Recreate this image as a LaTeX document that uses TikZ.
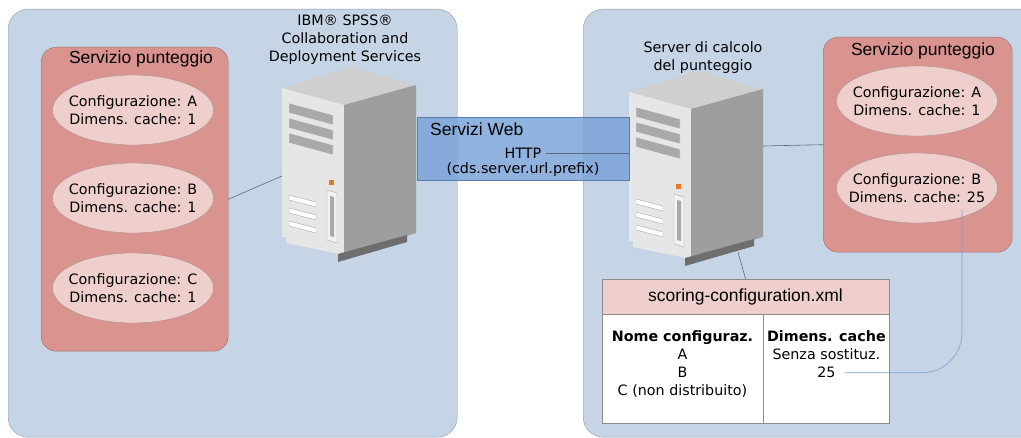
\documentclass[tikz,border=0pt]{standalone}
\usepackage{fontspec}
\setmainfont{DejaVu Sans}
\newfontfamily\arialfont{Liberation Sans}
\usetikzlibrary{shapes.geometric, positioning}

\definecolor{zonefill}{HTML}{C6D5E6}
\definecolor{zoneline}{HTML}{8B98A8}
\definecolor{svcfill}{HTML}{D99490}
\definecolor{svcline}{HTML}{9C6B68}
\definecolor{cfgfill}{HTML}{EFCFCC}
\definecolor{cfgline}{HTML}{B09090}
\definecolor{webfill}{HTML}{7BA4D9}
\definecolor{webline}{HTML}{5B7DAE}
\definecolor{xmlfill}{HTML}{EFCFCD}
\definecolor{cellline}{HTML}{8C8C8C}
\definecolor{linkcol}{HTML}{5C6B7D}
\definecolor{feedcol}{HTML}{7DA2D4}
\definecolor{srvtop}{HTML}{CFCFCF}
\definecolor{srvfront}{HTML}{E6E6E6}
\definecolor{srvside}{HTML}{9E9E9E}
\definecolor{srvbase}{HTML}{6E6E6E}
\definecolor{srvvent}{HTML}{A9A9A9}
\definecolor{srvedge}{HTML}{F2F2F2}
\definecolor{srvbay}{HTML}{F2F2F2}
\definecolor{ledorange}{HTML}{E87722}

\begin{document}
\begin{tikzpicture}[x=1pt, y=-1pt,
    zone/.style={rectangle, draw=zoneline, fill=zonefill, rounded corners=20pt, anchor=north west},
    svcbox/.style={rectangle, draw=svcline, fill=svcfill, rounded corners=15pt, anchor=north west},
    cfg/.style={ellipse, draw=cfgline, fill=cfgfill, minimum width=161pt, minimum height=70pt, align=center, inner xsep=-25pt, inner ysep=0pt, font=\fontsize{14.3}{18}\selectfont},
    txt/.style={align=center, inner sep=0pt, font=\fontsize{14.3}{18}\selectfont},
    heading/.style={inner sep=0pt, font=\arialfont\fontsize{17.5}{20}\selectfont},
    cell/.style={rectangle, draw=cellline, fill=white, anchor=north west, minimum height=109pt},
    link/.style={draw=linkcol, line width=0.6pt},
    feed/.style={draw=feedcol, line width=0.6pt, rounded corners=40pt},
    server/.pic={
      \fill[srvtop] (0,21) -- (70,0) -- (134,18) -- (62,38) -- cycle;
      \fill[srvfront] (0,21) -- (62,38) -- (62,188) -- (4,176) -- (4,170) -- (0,170) -- cycle;
      \fill[srvside] (62,38) -- (134,18) -- (134,166) -- (62,188) -- cycle;
      \fill[srvbase] (56,187) -- (125,168) -- (125,175) -- (56,195) -- cycle;
      \foreach \v in {0,15,30}
        \filldraw[fill=srvvent, draw=srvedge] (7,36+\v) -- (51,48+\v) -- (51,58+\v) -- (7,46+\v) -- cycle;
      \foreach \v in {0,13,26}
        \filldraw[fill=white, draw=srvvent] (7,128+\v) -- (34,135+\v) -- (34,140+\v) -- (7,133+\v) -- cycle;
      \filldraw[fill=srvbay, draw=srvvent] (45,123) -- (55,126) -- (55,176) -- (45,173) -- cycle;
      \fill[srvvent] (48,129) -- (52,130) -- (52,170) -- (48,169) -- cycle;
      \fill[ledorange] (47,113) rectangle (52,118);
      \coordinate (-w) at (0,109);
      \coordinate (-e) at (134,75);
      \coordinate (-s) at (109,181);
    }]

\clip (0,0) rectangle (1021,438);

\node [zone, minimum width=449pt, minimum height=428pt] (zoneL) at (8,9) {};
\node [zone, minimum width=460pt, minimum height=428pt] (zoneR) at (583,9) {};

\node [svcbox, minimum width=187pt, minimum height=304pt] (svcL) at (41,47) {};
\node [heading] (svcLtitle) at (141,59) {Servizio punteggio};
\node [cfg] (cfgLA) at (133,110) {Configurazione: A\\Dimens. cache: 1};
\node [cfg] (cfgLB) at (133,198) {Configurazione: B\\Dimens. cache: 1};
\node [cfg] (cfgLC) at (133,288) {Configurazione: C\\Dimens. cache: 1};

\node [svcbox, minimum width=189pt, minimum height=215pt] (svcR) at (823,37) {};
\node [heading] (svcRtitle) at (923,51) {Servizio punteggio};
\node [cfg] (cfgRA) at (917,101) {Configurazione: A\\Dimens. cache: 1};
\node [cfg] (cfgRB) at (917,188) {Configurazione: B\\Dimens. cache: 25};

\pic (srvA) at (282,67) {server};
\pic (srvB) at (629,71) {server};
\node [txt] (srvAlbl) at (345,40) {IBM® SPSS®\\Collaboration and\\Deployment Services};
\node [txt] (srvBlbl) at (703,58) {Server di calcolo\\del punteggio};

\node [rectangle, draw=webline, fill=webfill, fill opacity=0.85, anchor=north west, minimum width=212pt, minimum height=63pt] (web) at (417,117) {};
\node [heading, below right=6pt and 13pt of web.north west] (webtitle) {Servizi Web};
\node [txt] (http) at (523,153) {HTTP};
\node [txt] (prefix) at (523,170) {(cds.server.url.prefix)};

\node [rectangle, draw=cellline, fill=xmlfill, minimum width=287pt, minimum height=35pt, heading] (xml) at (745.5,296.5) {scoring-configuration.xml};
\node [cell, minimum width=161pt] (cellA) at (xml.south west) {};
\node [cell, minimum width=126pt] (cellB) at (cellA.north east) {};
\node [txt, below=16pt of cellA.north] (names) {\textbf{Nome configuraz.}\\A\\B\\C (non distribuito)};
\node [txt, below=16pt of cellB.north] (cache) {\textbf{Dimens. cache}\\Senza sostituz.};
\node [txt, below=7.5pt of cache] (v25) {25};

\draw [link] (svcL.east) -- (srvA-w);
\draw [link] ([xshift=4pt]http.east) -- (http.east -| srvB-w);
\draw [link] (srvB-e) -- (svcR.west);
\draw [link] (srvB-s) -- (xml.north);
\draw [feed] ([xshift=9pt]v25.east) -| ([xshift=45pt, yshift=-22pt]cfgRB.center);
\end{tikzpicture}
\end{document}
